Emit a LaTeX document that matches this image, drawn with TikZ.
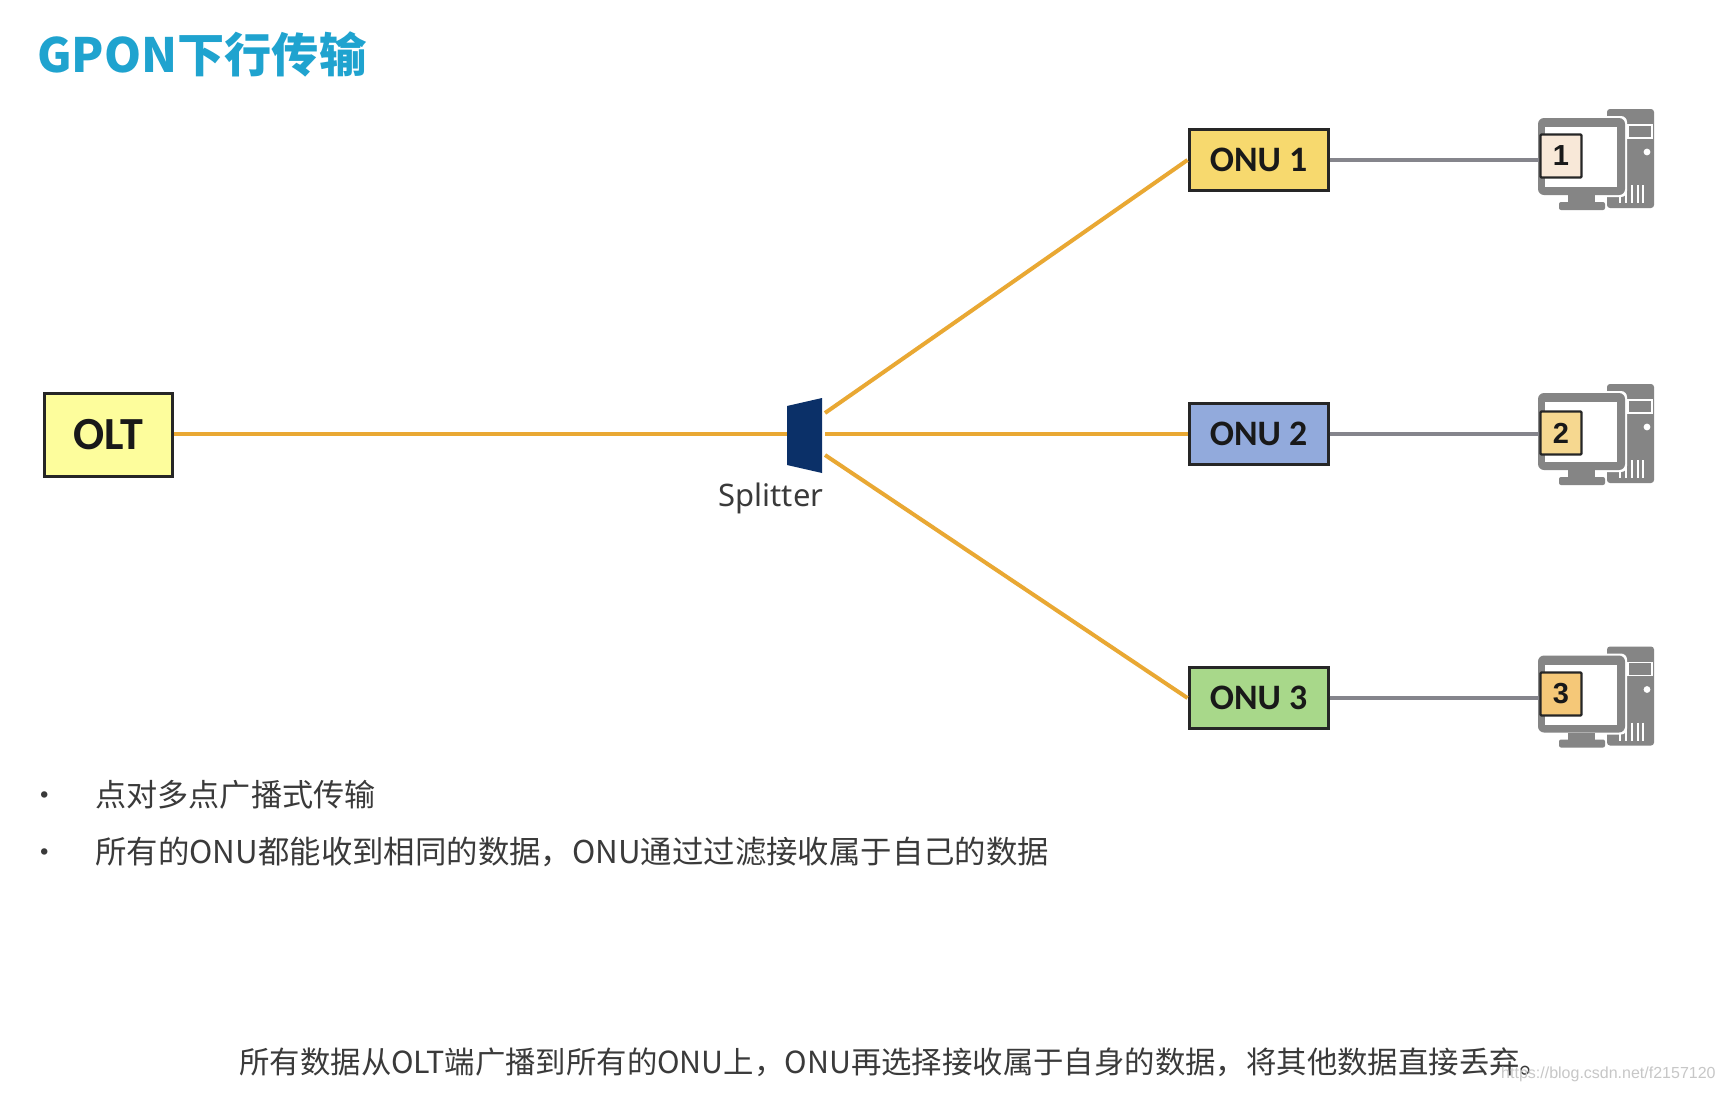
\documentclass[tikz,border=0pt]{standalone}
\usepackage{fontspec}
\setmainfont{Noto Sans CJK SC}
\newfontfamily\lab{Carlito}
\newfontfamily\split{Noto Sans}
\newfontfamily\wm{Liberation Sans}
\definecolor{ttl}{HTML}{1FA3CF}
\definecolor{fib}{HTML}{E9A833}
\definecolor{cab}{HTML}{85858C}
\definecolor{pc}{HTML}{858585}
\definecolor{txt}{HTML}{3A3A3A}
\definecolor{navy}{HTML}{0B3068}
\definecolor{oltfill}{HTML}{FDFD9C}
\definecolor{onuA}{HTML}{F7D96E}
\definecolor{onuB}{HTML}{92AADC}
\definecolor{onuC}{HTML}{A8D88A}
\definecolor{numA}{HTML}{F8E8D8}
\definecolor{numB}{HTML}{F6D890}
\definecolor{numC}{HTML}{F5C878}
\tikzset{
 x=0.5pt,y=-0.5pt,
 devbox/.style={draw=black!85,line width=1.5pt,inner sep=0,minimum width=69.5pt,minimum height=30.5pt,font=\lab\bfseries\fontsize{17.9}{20}\selectfont,text=black!90},
 fiber/.style={draw=fib,line width=2pt},
 cable/.style={draw=cab,line width=1.8pt},
 numbox/.style={draw=black!85,line width=1.1pt,inner sep=0,minimum width=20.5pt,minimum height=21.5pt,rounded corners=0.5pt,font=\wm\bfseries\fontsize{14.5}{16}\selectfont,text=black!90},
 body/.style={anchor=west,inner sep=0,text=txt,font=\fontsize{15.2}{18}\selectfont},
 pics/computer/.style={code={
  \fill[pc,rounded corners=1.5pt] (107,19) rectangle (154,118);
  \draw[white,line width=0.8pt] (128,35) rectangle (152,48);
  \fill[white] (147,62) circle (3.4);
  \foreach \vx in {120,126,132,138,143}{\draw[white,line width=0.8pt] (\vx,95) -- (\vx,113);}
  \fill[white,rounded corners=3pt] (36,26) rectangle (127,107);
  \fill[pc,rounded corners=3pt] (38,28) rectangle (125,105);
  \fill[white] (45,37) rectangle (117,97);
  \fill[pc] (68,105) rectangle (95,112);
  \fill[pc,rounded corners=1pt] (59,112) rectangle (105,120);
 }}
}
\begin{document}
\begin{tikzpicture}
\useasboundingbox[fill=white] (0,0) rectangle (1725,1093);
% computers
\pic at (1500,90) {computer};
\pic at (1500,365) {computer};
\pic at (1500,627.5) {computer};
% title
\node[anchor=west,inner sep=0,text=ttl,font=\bfseries\fontsize{23.6}{28}\selectfont] (title) at (37,54) {GPON下行传输};
% devices
\node[devbox,fill=oltfill,minimum width=64pt,minimum height=41.5pt,font=\lab\bfseries\fontsize{23}{26}\selectfont] (olt) at (108,435) {OLT};
\node[devbox,fill=onuA] (onu1) at (1258.5,160) {ONU 1};
\node[devbox,fill=onuB] (onu2) at (1258.5,434) {ONU 2};
\node[devbox,fill=onuC] (onu3) at (1258.5,698) {ONU 3};
% splitter
\node[minimum width=17.5pt,minimum height=37.5pt,inner sep=0] (spl) at (804.5,435.5) {};
\fill[navy] (787,406) -- (822,398) -- (822,473) -- (787,465) -- cycle;
\node[anchor=center,inner sep=0,text=txt,font=\split\fontsize{15.5}{18}\selectfont] (spllab) at (771,498) {Splitter};
\coordinate (fanA) at (825,413);
\coordinate (fanB) at (825,434);
\coordinate (fanC) at (825,455);
% fibres
\draw[fiber] (olt.east |- onu2.west) -- (spl.west |- onu2.west);
\draw[fiber] (fanA) -- (onu1.west);
\draw[fiber] (fanB) -- (onu2.west);
\draw[fiber] (fanC) -- (onu3.west);
% numbered boxes
\node[numbox,fill=numA] (n1) at (1561,156) {1};
\node[numbox,fill=numB] (n2) at (1561,433) {2};
\node[numbox,fill=numC] (n3) at (1561,694) {3};
% cables
\draw[cable] (onu1.east) -- (n1.west |- onu1.east);
\draw[cable] (onu2.east) -- (n2.west |- onu2.east);
\draw[cable] (onu3.east) -- (n3.west |- onu3.east);
% bullets
\node[body] (b1) at (29,799) {•};
\node[body,font=\fontsize{15.56}{18}\selectfont] (t1) at (95,795) {点对多点广播式传输};
\node[body] (b2) at (29,856) {•};
\node[body,font=\fontsize{15.7}{18}\selectfont] (t2) at (95,852) {所有的ONU都能收到相同的数据，ONU通过过滤接收属于自己的数据};
\node[body] (bot) at (239,1062) {所有数据从OLT端广播到所有的ONU上，ONU再选择接收属于自身的数据，将其他数据直接丢弃。};
\node[anchor=east,inner sep=0,text=black!22,font=\wm\fontsize{8}{10}\selectfont] (wm) at (1716,1074) {https://blog.csdn.net/f2157120};
\end{tikzpicture}
\end{document}
